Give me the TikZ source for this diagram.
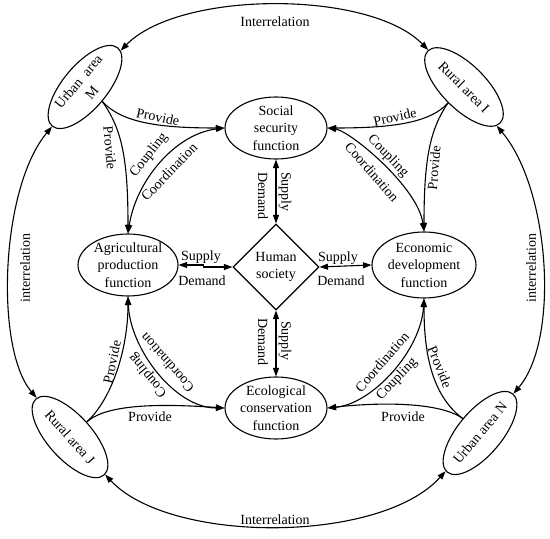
\documentclass[tikz,border=0pt]{standalone}
\usepackage{fontspec}
\setmainfont{Liberation Serif}
\usetikzlibrary{shapes.geometric,arrows.meta}
\begin{document}
\begin{tikzpicture}[x=1pt,y=1pt,
  every node/.style={font=\fontsize{14}{17.5}\selectfont},
  fn/.style={ellipse,draw,line width=1.1pt,inner xsep=0pt,inner ysep=-4pt,align=center},
  area/.style={ellipse,draw,line width=1.1pt,inner xsep=-4pt,inner ysep=0pt,minimum width=102pt,minimum height=44pt,align=center},
  con/.style={line width=1.1pt,-{Triangle[length=8.5pt,width=6pt]}},
  bi/.style={line width=1.1pt,{Triangle[length=8.5pt,width=6pt]}-{Triangle[length=8.5pt,width=6pt]}},
  lab/.style={inner sep=0pt}
]
\useasboundingbox (0,0) rectangle (550,539);

% function nodes
\node[fn,minimum width=102pt,minimum height=62pt] (social) at (276,411) {Social\\security\\function};
\node[fn,minimum width=100pt,minimum height=62pt] (agri) at (128,274) {Agricultural\\production\\function};
\node[fn,minimum width=104pt,minimum height=66pt] (econ) at (424,274) {Economic\\development\\function};
\node[fn,minimum width=102pt,minimum height=62pt] (ecol) at (276,131) {Ecological\\conservation\\function};
\node[diamond,draw,line width=1.1pt,inner sep=0pt,minimum width=86pt,minimum height=86pt,align=center] (human) at (276,272) {Human\\society};

% area nodes
\node[area,rotate=50] (m) at (85,452) {Urban\hspace{4pt} area\\M};
\node[area,rotate=-45] (i) at (464,452) {Rural area I};
\node[area,rotate=-48] (j) at (70,102) {Rural area J};
\node[area,rotate=50] (n) at (480,106) {Urban area N};

% outer interrelations
\draw[bi] (i) .. controls (370,549) and (180,549) .. (m);
\draw[bi] (m) .. controls (0,350) and (-5,190) .. (j);
\draw[bi] (i) .. controls (550,350) and (560,200) .. (n);
\draw[bi] (j) .. controls (170,-5) and (380,-5) .. (n);
\node[lab] (t1) at (275,517) {Interrelation};
\node[lab] (t2) at (275,19) {Interrelation};
\node[lab,rotate=90] (t3) at (25,271) {interrelation};
\node[lab,rotate=90] (t4) at (531,271) {interrelation};

% inner provide / coupling
\draw[con] (m.south) .. controls (122,416) and (160,411) .. (social.west);
\draw[con] (m.south) .. controls (122,410) and (128,380) .. (agri.north);
\draw[bi] (social.west) .. controls (175,405) and (136,358) .. (agri.north);
\draw[con] (i.south) .. controls (430,416) and (392,411) .. (social.east);
\draw[con] (i.south) .. controls (430,410) and (424,380) .. (econ.north);
\draw[bi] (social.east) .. controls (350,408) and (418,352) .. (econ.north);
\draw[con] (j.north) .. controls (112,140) and (128,190) .. (agri.south);
\draw[con] (j.north) .. controls (108,136) and (165,135) .. (ecol.west);
\draw[bi] (agri.south) .. controls (130,190) and (175,131) .. (ecol.west);
\draw[con] (n.north) .. controls (430,145) and (424,190) .. (econ.south);
\draw[con] (n.north) .. controls (440,137) and (380,137) .. (ecol.east);
\draw[bi] (econ.south) .. controls (421,188) and (372,135) .. (ecol.east);

\node[lab,rotate=-12] (p1) at (158,422) {Provide};
\node[lab,rotate=-85] (p2) at (110,391) {Provide};
\node[lab,rotate=52] (c1) at (149,384) {Coupling};
\node[lab,rotate=46] (d1) at (169,367) {Coordination};
\node[lab,rotate=12] (p3) at (395,422) {Provide};
\node[lab,rotate=85] (p4) at (434,371) {Provide};
\node[lab,rotate=-46] (c2) at (388,383) {Coupling};
\node[lab,rotate=-49] (d2) at (372,367) {Coordination};
\node[lab,rotate=78] (p5) at (112,177) {Provide};
\node[lab] (p6) at (150,122) {Provide};
\node[lab,rotate=129] (c3) at (148,164) {Coupling};
\node[lab,rotate=131] (d3) at (167,176) {Coordination};
\node[lab,rotate=-68] (p7) at (440,172) {Provide};
\node[lab] (p8) at (403,122) {Provide};
\node[lab,rotate=46] (c4) at (397,160) {Coupling};
\node[lab,rotate=49] (d4) at (382,177) {Coordination};

% human society links
\draw[bi] (social.south) -- (human.north);
\draw[bi] (human.south) -- (ecol.north);
\draw[bi] (agri.east) -- ++(25,0) |- (human.west);
\draw[bi] (human.east) -- (econ.west);

\node[lab,rotate=-90] (s1) at (263,343) {Demand};
\node[lab,rotate=-90] (s2) at (285,347) {Supply};
\node[lab,rotate=-90] (s3) at (263,197) {Demand};
\node[lab,rotate=-90] (s4) at (285,198) {Supply};
\node[lab] (s5) at (201,282) {Supply};
\node[lab] (s6) at (202,258) {Demand};
\node[lab] (s7) at (338,281) {Supply};
\node[lab] (s8) at (341,258) {Demand};
\end{tikzpicture}
\end{document}
